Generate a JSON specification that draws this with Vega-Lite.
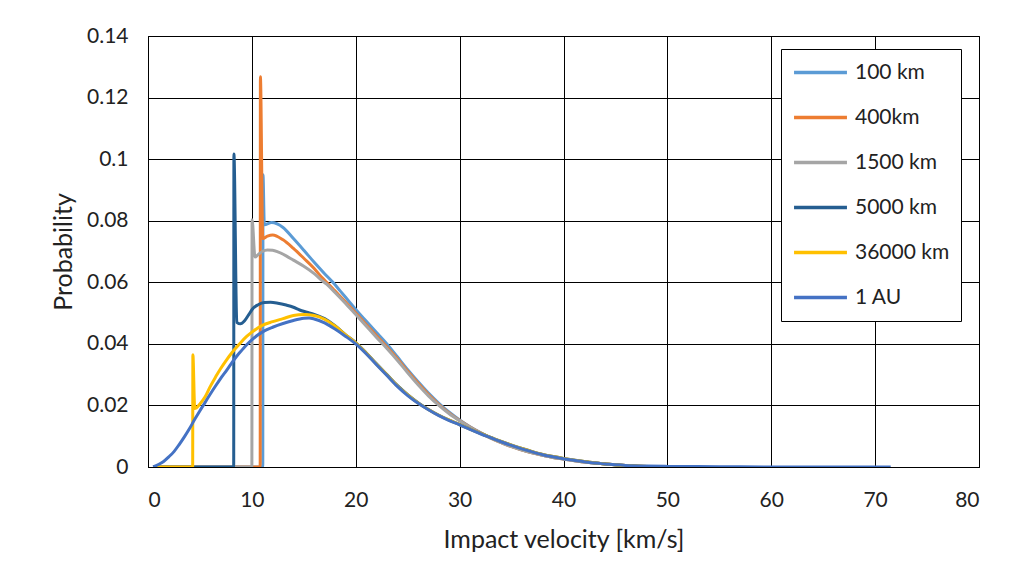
{
  "$schema": "https://vega.github.io/schema/vega-lite/v6.json",
  "width": 831,
  "height": 431,
  "autosize": {"type": "none"},
  "padding": {"left": 148, "top": 36, "right": 34, "bottom": 116},
  "background": "white",
  "config": {
    "font": "Lato",
    "view": {"stroke": "black", "strokeWidth": 1}
  },
  "data": {"values": [
    {"s":"100 km","v":0.5,"p":0},{"s":"100 km","v":11.05,"p":0},{"s":"100 km","v":11.07,"p":0.0949},{"s":"100 km","v":11.2,"p":0.0787},{"s":"100 km","v":11.9,"p":0.0794},{"s":"100 km","v":13,"p":0.0778},{"s":"100 km","v":14,"p":0.0742},{"s":"100 km","v":15,"p":0.0704},{"s":"100 km","v":16,"p":0.0665},{"s":"100 km","v":17,"p":0.0628},{"s":"100 km","v":17.8,"p":0.060},{"s":"100 km","v":18.5,"p":0.0572},{"s":"100 km","v":19,"p":0.0552},{"s":"100 km","v":20,"p":0.0512},{"s":"100 km","v":21,"p":0.0474},{"s":"100 km","v":22,"p":0.0437},{"s":"100 km","v":23,"p":0.040},{"s":"100 km","v":24,"p":0.0358},{"s":"100 km","v":25,"p":0.0316},{"s":"100 km","v":26,"p":0.0277},{"s":"100 km","v":27,"p":0.0240},{"s":"100 km","v":28,"p":0.0207},{"s":"100 km","v":29,"p":0.0178},{"s":"100 km","v":30,"p":0.0153},{"s":"100 km","v":31,"p":0.0131},{"s":"100 km","v":32,"p":0.0112},{"s":"100 km","v":33,"p":0.0095},{"s":"100 km","v":34,"p":0.008},{"s":"100 km","v":35,"p":0.0067},{"s":"100 km","v":36,"p":0.0056},{"s":"100 km","v":37,"p":0.0046},{"s":"100 km","v":38,"p":0.0038},{"s":"100 km","v":39,"p":0.0031},{"s":"100 km","v":40,"p":0.0026},{"s":"100 km","v":42,"p":0.0016},{"s":"100 km","v":44,"p":0.001},{"s":"100 km","v":46,"p":0.0005},{"s":"100 km","v":48,"p":0.0002},{"s":"100 km","v":50,"p":0},
    {"s":"400km","v":0.5,"p":0},{"s":"400km","v":10.8,"p":0},{"s":"400km","v":10.82,"p":0.1268},{"s":"400km","v":11.05,"p":0.0742},{"s":"400km","v":11.5,"p":0.075},{"s":"400km","v":12,"p":0.0754},{"s":"400km","v":13,"p":0.0738},{"s":"400km","v":14,"p":0.071},{"s":"400km","v":15,"p":0.0678},{"s":"400km","v":16,"p":0.0645},{"s":"400km","v":16.7,"p":0.0617},{"s":"400km","v":17.2,"p":0.060},{"s":"400km","v":18,"p":0.0572},{"s":"400km","v":19,"p":0.0537},{"s":"400km","v":20,"p":0.0500},{"s":"400km","v":21,"p":0.0463},{"s":"400km","v":22,"p":0.0426},{"s":"400km","v":23,"p":0.039},{"s":"400km","v":24,"p":0.0352},{"s":"400km","v":25,"p":0.0311},{"s":"400km","v":26,"p":0.0272},{"s":"400km","v":27,"p":0.0235},{"s":"400km","v":28,"p":0.0203},{"s":"400km","v":29,"p":0.0175},{"s":"400km","v":30,"p":0.0151},{"s":"400km","v":31,"p":0.013},{"s":"400km","v":32,"p":0.0111},{"s":"400km","v":33,"p":0.0094},{"s":"400km","v":34,"p":0.0079},{"s":"400km","v":35,"p":0.0066},{"s":"400km","v":36,"p":0.0055},{"s":"400km","v":37,"p":0.0046},{"s":"400km","v":38,"p":0.0038},{"s":"400km","v":39,"p":0.0031},{"s":"400km","v":40,"p":0.0026},{"s":"400km","v":42,"p":0.0016},{"s":"400km","v":44,"p":0.001},{"s":"400km","v":46,"p":0.0005},{"s":"400km","v":49,"p":0},
    {"s":"1500 km","v":0.5,"p":0},{"s":"1500 km","v":10.0,"p":0},{"s":"1500 km","v":10.02,"p":0.0803},{"s":"1500 km","v":10.3,"p":0.0682},{"s":"1500 km","v":10.6,"p":0.069},{"s":"1500 km","v":11,"p":0.07},{"s":"1500 km","v":11.5,"p":0.0705},{"s":"1500 km","v":12,"p":0.0704},{"s":"1500 km","v":12.5,"p":0.0699},{"s":"1500 km","v":13.3,"p":0.0686},{"s":"1500 km","v":14,"p":0.0672},{"s":"1500 km","v":15,"p":0.0652},{"s":"1500 km","v":16,"p":0.0628},{"s":"1500 km","v":16.7,"p":0.0607},{"s":"1500 km","v":17.2,"p":0.0594},{"s":"1500 km","v":18,"p":0.0567},{"s":"1500 km","v":19,"p":0.0532},{"s":"1500 km","v":20,"p":0.0495},{"s":"1500 km","v":21,"p":0.0458},{"s":"1500 km","v":22,"p":0.0421},{"s":"1500 km","v":23,"p":0.0385},{"s":"1500 km","v":24,"p":0.0347},{"s":"1500 km","v":25,"p":0.0306},{"s":"1500 km","v":26,"p":0.0267},{"s":"1500 km","v":27,"p":0.0231},{"s":"1500 km","v":28,"p":0.02},{"s":"1500 km","v":29,"p":0.0173},{"s":"1500 km","v":30,"p":0.015},{"s":"1500 km","v":31,"p":0.0129},{"s":"1500 km","v":32,"p":0.011},{"s":"1500 km","v":33,"p":0.0094},{"s":"1500 km","v":34,"p":0.0079},{"s":"1500 km","v":35,"p":0.0066},{"s":"1500 km","v":36,"p":0.0055},{"s":"1500 km","v":37,"p":0.0046},{"s":"1500 km","v":38,"p":0.0038},{"s":"1500 km","v":39,"p":0.0031},{"s":"1500 km","v":40,"p":0.0026},{"s":"1500 km","v":42,"p":0.0016},{"s":"1500 km","v":44,"p":0.001},{"s":"1500 km","v":46,"p":0.0005},{"s":"1500 km","v":49,"p":0},
    {"s":"5000 km","v":0.5,"p":0},{"s":"5000 km","v":8.25,"p":0},{"s":"5000 km","v":8.27,"p":0.1017},{"s":"5000 km","v":8.55,"p":0.047},{"s":"5000 km","v":8.9,"p":0.0465},{"s":"5000 km","v":9.3,"p":0.0475},{"s":"5000 km","v":9.7,"p":0.0495},{"s":"5000 km","v":10.1,"p":0.0515},{"s":"5000 km","v":10.6,"p":0.0527},{"s":"5000 km","v":11.2,"p":0.0534},{"s":"5000 km","v":11.8,"p":0.0535},{"s":"5000 km","v":12.5,"p":0.0532},{"s":"5000 km","v":13.3,"p":0.0526},{"s":"5000 km","v":14,"p":0.0519},{"s":"5000 km","v":14.6,"p":0.051},{"s":"5000 km","v":15.3,"p":0.0503},{"s":"5000 km","v":16,"p":0.0496},{"s":"5000 km","v":17,"p":0.0482},{"s":"5000 km","v":18,"p":0.0459},{"s":"5000 km","v":19,"p":0.043},{"s":"5000 km","v":20,"p":0.0404},{"s":"5000 km","v":21,"p":0.0371},{"s":"5000 km","v":22,"p":0.0335},{"s":"5000 km","v":23,"p":0.03},{"s":"5000 km","v":24,"p":0.0265},{"s":"5000 km","v":25,"p":0.0235},{"s":"5000 km","v":26,"p":0.0209},{"s":"5000 km","v":27,"p":0.0187},{"s":"5000 km","v":28,"p":0.0168},{"s":"5000 km","v":29,"p":0.0152},{"s":"5000 km","v":30,"p":0.0138},{"s":"5000 km","v":31,"p":0.0123},{"s":"5000 km","v":32,"p":0.0109},{"s":"5000 km","v":33,"p":0.0096},{"s":"5000 km","v":34,"p":0.0083},{"s":"5000 km","v":35,"p":0.0071},{"s":"5000 km","v":36,"p":0.006},{"s":"5000 km","v":37,"p":0.005},{"s":"5000 km","v":38,"p":0.0041},{"s":"5000 km","v":39,"p":0.0034},{"s":"5000 km","v":40,"p":0.0028},{"s":"5000 km","v":42,"p":0.0018},{"s":"5000 km","v":44,"p":0.001},{"s":"5000 km","v":46,"p":0.0005},{"s":"5000 km","v":48.5,"p":0},
    {"s":"36000 km","v":0.5,"p":0},{"s":"36000 km","v":4.3,"p":0},{"s":"36000 km","v":4.32,"p":0.0365},{"s":"36000 km","v":4.5,"p":0.019},{"s":"36000 km","v":5,"p":0.0205},{"s":"36000 km","v":5.5,"p":0.0228},{"s":"36000 km","v":6,"p":0.0262},{"s":"36000 km","v":6.5,"p":0.0292},{"s":"36000 km","v":7,"p":0.032},{"s":"36000 km","v":7.5,"p":0.0345},{"s":"36000 km","v":8,"p":0.0368},{"s":"36000 km","v":8.5,"p":0.0388},{"s":"36000 km","v":9,"p":0.0407},{"s":"36000 km","v":9.5,"p":0.0424},{"s":"36000 km","v":10,"p":0.0438},{"s":"36000 km","v":11,"p":0.046},{"s":"36000 km","v":12,"p":0.0472},{"s":"36000 km","v":13,"p":0.0482},{"s":"36000 km","v":14,"p":0.0492},{"s":"36000 km","v":15,"p":0.0495},{"s":"36000 km","v":16,"p":0.0492},{"s":"36000 km","v":17,"p":0.048},{"s":"36000 km","v":18,"p":0.0458},{"s":"36000 km","v":19,"p":0.043},{"s":"36000 km","v":20,"p":0.0403},{"s":"36000 km","v":21,"p":0.037},{"s":"36000 km","v":22,"p":0.0334},{"s":"36000 km","v":23,"p":0.0299},{"s":"36000 km","v":24,"p":0.0264},{"s":"36000 km","v":25,"p":0.0234},{"s":"36000 km","v":26,"p":0.0208},{"s":"36000 km","v":27,"p":0.0187},{"s":"36000 km","v":28,"p":0.0168},{"s":"36000 km","v":29,"p":0.0152},{"s":"36000 km","v":30,"p":0.0138},{"s":"36000 km","v":31,"p":0.0123},{"s":"36000 km","v":32,"p":0.0109},{"s":"36000 km","v":33,"p":0.0096},{"s":"36000 km","v":34,"p":0.0083},{"s":"36000 km","v":35,"p":0.0071},{"s":"36000 km","v":36,"p":0.006},{"s":"36000 km","v":37,"p":0.005},{"s":"36000 km","v":38,"p":0.0041},{"s":"36000 km","v":39,"p":0.0034},{"s":"36000 km","v":40,"p":0.0028},{"s":"36000 km","v":42,"p":0.0018},{"s":"36000 km","v":44,"p":0.001},{"s":"36000 km","v":46,"p":0.0005},{"s":"36000 km","v":50,"p":0},
    {"s":"1 AU","v":0.5,"p":0},{"s":"1 AU","v":1,"p":0.0008},{"s":"1 AU","v":1.5,"p":0.0018},{"s":"1 AU","v":2,"p":0.0033},{"s":"1 AU","v":2.5,"p":0.005},{"s":"1 AU","v":3,"p":0.0073},{"s":"1 AU","v":3.5,"p":0.0098},{"s":"1 AU","v":4,"p":0.0125},{"s":"1 AU","v":4.5,"p":0.0155},{"s":"1 AU","v":5,"p":0.0183},{"s":"1 AU","v":5.5,"p":0.021},{"s":"1 AU","v":6,"p":0.0237},{"s":"1 AU","v":6.5,"p":0.0263},{"s":"1 AU","v":7,"p":0.0288},{"s":"1 AU","v":7.5,"p":0.0311},{"s":"1 AU","v":8,"p":0.0335},{"s":"1 AU","v":8.5,"p":0.0358},{"s":"1 AU","v":9,"p":0.0378},{"s":"1 AU","v":9.5,"p":0.0397},{"s":"1 AU","v":10,"p":0.0413},{"s":"1 AU","v":10.5,"p":0.0427},{"s":"1 AU","v":11,"p":0.0438},{"s":"1 AU","v":11.5,"p":0.0447},{"s":"1 AU","v":12,"p":0.0454},{"s":"1 AU","v":13,"p":0.0466},{"s":"1 AU","v":14,"p":0.0476},{"s":"1 AU","v":15,"p":0.0483},{"s":"1 AU","v":15.5,"p":0.0484},{"s":"1 AU","v":16,"p":0.0481},{"s":"1 AU","v":17,"p":0.0468},{"s":"1 AU","v":18,"p":0.0448},{"s":"1 AU","v":19,"p":0.0425},{"s":"1 AU","v":20,"p":0.04},{"s":"1 AU","v":21,"p":0.0368},{"s":"1 AU","v":22,"p":0.0332},{"s":"1 AU","v":23,"p":0.0297},{"s":"1 AU","v":24,"p":0.0262},{"s":"1 AU","v":25,"p":0.0232},{"s":"1 AU","v":26,"p":0.0207},{"s":"1 AU","v":27,"p":0.0186},{"s":"1 AU","v":28,"p":0.0167},{"s":"1 AU","v":29,"p":0.0151},{"s":"1 AU","v":30,"p":0.0137},{"s":"1 AU","v":31,"p":0.0122},{"s":"1 AU","v":32,"p":0.0108},{"s":"1 AU","v":33,"p":0.0095},{"s":"1 AU","v":34,"p":0.0082},{"s":"1 AU","v":35,"p":0.007},{"s":"1 AU","v":36,"p":0.0059},{"s":"1 AU","v":37,"p":0.0049},{"s":"1 AU","v":38,"p":0.004},{"s":"1 AU","v":39,"p":0.0033},{"s":"1 AU","v":40,"p":0.0027},{"s":"1 AU","v":41,"p":0.0022},{"s":"1 AU","v":42,"p":0.0017},{"s":"1 AU","v":43,"p":0.0013},{"s":"1 AU","v":44,"p":0.001},{"s":"1 AU","v":45,"p":0.0007},{"s":"1 AU","v":46,"p":0.0005},{"s":"1 AU","v":48,"p":0.0003},{"s":"1 AU","v":50,"p":0.0002},{"s":"1 AU","v":55,"p":0.0001},{"s":"1 AU","v":60,"p":0},{"s":"1 AU","v":71.5,"p":0}
  ]},
  "mark": {"type": "line", "strokeWidth": 3, "interpolate": "monotone", "clip": true},
  "encoding": {
    "x": {
      "field": "v", "type": "quantitative",
      "scale": {"domain": [0, 80], "nice": false, "zero": false},
      "axis": {
        "title": "Impact velocity [km/s]", "values": [0,10,20,30,40,50,60,70,80],
        "grid": true, "gridColor": "black", "gridWidth": 1, "gridOpacity": 1,
        "domainColor": "black", "ticks": false,
        "labelFontSize": 21, "labelColor": "#222", "labelPadding": 22, "labelFont": "Lato",
        "titleFontSize": 25, "titleFontWeight": "normal", "titleColor": "#222", "titlePadding": 17, "titleFont": "Lato"
      }
    },
    "y": {
      "field": "p", "type": "quantitative",
      "scale": {"domain": [0, 0.14], "nice": false},
      "axis": {
        "title": "Probability", "values": [0,0.02,0.04,0.06,0.08,0.1,0.12,0.14], "format": ".2~f",
        "grid": true, "gridColor": "black", "gridWidth": 1, "gridOpacity": 1,
        "domainColor": "black", "ticks": false,
        "labelFontSize": 21, "labelColor": "#222", "labelPadding": 20, "labelFont": "Lato",
        "titleFontSize": 25, "titleFontWeight": "normal", "titleColor": "#222", "titlePadding": 10, "titleFont": "Lato"
      }
    },
    "color": {
      "field": "s", "type": "nominal",
      "scale": {
        "domain": ["100 km", "400km", "1500 km", "5000 km", "36000 km", "1 AU"],
        "range": ["#5B9BD5", "#ED7D31", "#A5A5A5", "#255E91", "#FFC000", "#4472C4"]
      },
      "legend": {
        "title": null, "orient": "none", "legendX": 633, "legendY": 13,
        "direction": "vertical",
        "strokeColor": "black", "fillColor": "white", "padding": 11,
        "symbolType": "stroke", "symbolStrokeWidth": 3.5, "symbolSize": 2800,
        "labelFontSize": 21, "labelFont": "Lato", "labelColor": "#222", "labelOffset": 6,
        "clipHeight": 25, "rowPadding": 20
      }
    }
  }
}
